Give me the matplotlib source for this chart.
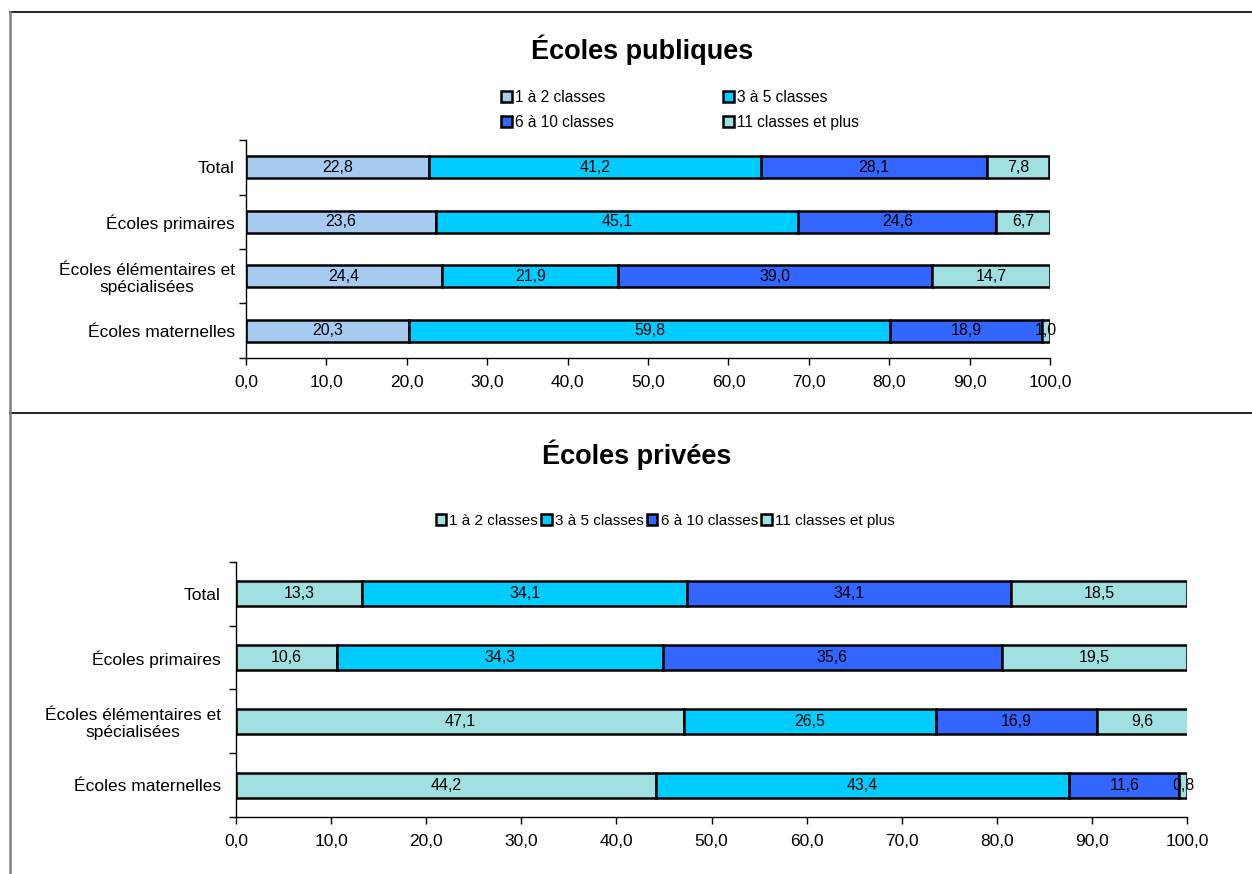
import numpy as np
import matplotlib.pyplot as plt
from matplotlib.lines import Line2D

plt.rcParams['font.family'] = ['Liberation Sans', 'DejaVu Sans']

categories = ['Écoles maternelles', 'Écoles élémentaires et\nspécialisées',
              'Écoles primaires', 'Total']
series = ['1 à 2 classes', '3 à 5 classes', '6 à 10 classes', '11 classes et plus']

# rows follow categories (bottom to top), columns follow series
publiques = np.array([
    [20.3, 59.8, 18.9, 1.0],
    [24.4, 21.9, 39.0, 14.7],
    [23.6, 45.1, 24.6, 6.7],
    [22.8, 41.2, 28.1, 7.8],
])
privees = np.array([
    [44.2, 43.4, 11.6, 0.8],
    [47.1, 26.5, 16.9, 9.6],
    [10.6, 34.3, 35.6, 19.5],
    [13.3, 34.1, 34.1, 18.5],
])

colors_pub = ['#A6CAF0', '#00CCFF', '#3366FF', '#A0E0E0']
colors_priv = ['#A0E0E0', '#00CCFF', '#3366FF', '#A0E0E0']


def fr(v):
    return f'{v:.1f}'.replace('.', ',')


def draw(ax, data, colors, bar_h, label_pad):
    y = np.arange(len(categories))
    left = np.zeros(len(categories))
    handles = []
    for j, name in enumerate(series):
        bars = ax.barh(y, data[:, j], left=left, height=bar_h, color=colors[j],
                       edgecolor='black', linewidth=1.8, label=name)
        handles.append(bars)
        for k, v in enumerate(data[:, j]):
            ax.text(left[k] + v / 2, y[k], fr(v), ha='center', va='center',
                    fontsize=11.5, color='black')
        left += data[:, j]
    ax.set_xlim(0, 100)
    ax.set_ylim(-0.5, len(categories) - 0.5)
    ax.set_xticks(np.arange(0, 101, 10))
    ax.set_xticklabels([fr(v) for v in np.arange(0, 101, 10)], fontsize=12.5)
    ax.set_yticks(np.arange(-0.5, len(categories), 1.0))
    ax.set_yticklabels([])
    ax.set_yticks(y, minor=True)
    ax.set_yticklabels(categories, minor=True, fontsize=12.5, multialignment='center')
    ax.tick_params(axis='y', which='minor', length=0, pad=label_pad)
    ax.tick_params(axis='y', which='major', length=5, width=1)
    ax.tick_params(axis='x', length=5, width=1, pad=7)
    for s in ['top', 'right']:
        ax.spines[s].set_visible(False)
    for s in ['left', 'bottom']:
        ax.spines[s].set_linewidth(1)
    return handles


fig = plt.figure(figsize=(12.52, 8.74), dpi=100)

# frame lines around the two panels
fig.add_artist(Line2D([10 / 1252, 1], [1 - 12 / 874, 1 - 12 / 874], color='black', lw=1.2))
fig.add_artist(Line2D([10 / 1252, 1], [1 - 413 / 874, 1 - 413 / 874], color='black', lw=1.2))
fig.add_artist(Line2D([10 / 1252, 10 / 1252], [0, 1 - 12 / 874], color='#808080', lw=1.8))

ax1 = fig.add_axes([0.1965, 0.5904, 0.6422, 0.2494])
h1 = draw(ax1, publiques, colors_pub, 0.40, 8)
fig.text(642 / 1252, 1 - 50 / 874, 'Écoles publiques', ha='center', va='center',
         fontsize=19.5, fontweight='bold')
order = [0, 2, 1, 3]
fig.legend([h1[i] for i in order], [series[i] for i in order], ncol=2,
           loc='center', bbox_to_anchor=(680 / 1252, 1 - 110 / 874), frameon=False,
           fontsize=11.2, handlelength=0.7, handleheight=0.7, handletextpad=0.2,
           columnspacing=7.0, labelspacing=0.6)

ax2 = fig.add_axes([0.1885, 0.0652, 0.7596, 0.2918])
h2 = draw(ax2, privees, colors_priv, 0.39, 11)
fig.text(637 / 1252, 1 - 455 / 874, 'Écoles privées', ha='center', va='center',
         fontsize=19.5, fontweight='bold')
fig.legend(h2, series, ncol=4, loc='center', bbox_to_anchor=(665 / 1252, 1 - 521 / 874),
           frameon=False, fontsize=11, handlelength=0.7, handleheight=0.7,
           handletextpad=0.2, columnspacing=0.2)

fig.savefig('out.png', dpi=100)
